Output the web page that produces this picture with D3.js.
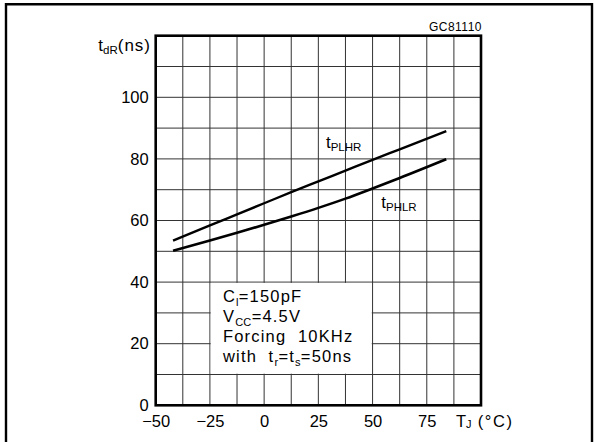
<!DOCTYPE html>
<html>
<head>
<meta charset="utf-8">
<script src="https://cdn.jsdelivr.net/npm/d3@7"></script>
<style>
  body { margin: 0; background: #fff; }
  svg { display: block; font-family: "Liberation Sans", Arial, sans-serif; }
</style>
</head>
<body>
<svg id="chart" width="594" height="442"></svg>
<script>
// data
const tempC = [-42, -25, -12.5, 0, 12.5, 25, 37.5, 50, 62.5, 84];
const tPLHR = [53.5, 58.4, 62.0, 65.6, 69.2, 72.7, 76.2, 79.7, 83.1, 89];
const tPHLR = [50.2, 53.5, 56.0, 58.6, 61.3, 64.1, 67.1, 70.4, 73.8, 79.9];
const xTicks = [-50, -25, 0, 25, 50, 75];
const yTicks = [0, 20, 40, 60, 80, 100];
const conditions = ["C|l|=150pF", "V|CC|=4.5V", "Forcing  10KHz", "with  t|r|=t|s|=50ns"];

const svg = d3.select("#chart");
const plotL = 155.7, plotR = 481, plotT = 35.7, plotB = 405.3;

const x = d3.scaleLinear().domain([-50, 100]).range([plotL, plotR]);
const y = d3.scaleLinear().domain([0, 120]).range([plotB, plotT]);

// outer frame
svg.append("path")
    .attr("d", "M6,442 V4.3 H592 V442")
    .attr("fill", "none").attr("stroke", "#000").attr("stroke-width", 2.4);

// grid
const grid = svg.append("g").attr("stroke", "#333").attr("stroke-width", 1);
grid.selectAll(".gx").data(d3.range(-37.5, 100, 12.5)).enter().append("line")
    .attr("x1", d => x(d)).attr("x2", d => x(d)).attr("y1", plotT).attr("y2", plotB);
grid.selectAll(".gy").data(d3.range(10, 120, 10)).enter().append("line")
    .attr("y1", d => y(d)).attr("y2", d => y(d)).attr("x1", plotL).attr("x2", plotR);

// conditions box covers the grid
svg.append("rect")
    .attr("x", x(-25) + 0.8).attr("y", y(40) + 0.8)
    .attr("width", x(50) - x(-25) - 1.6).attr("height", y(10) - y(40) - 1.6)
    .attr("fill", "#fff");

const box = svg.append("text").attr("font-size", 16.5).attr("letter-spacing", 1.2)
    .attr("fill", "#000").style("white-space", "pre");
conditions.forEach((line, i) => {
    const t = box.append("tspan").attr("x", x(-25) + 13).attr("y", y(40) + 20 + i * 20);
    line.split("|").forEach((part, j) => {
        const s = t.append("tspan").text(part);
        if (j % 2 === 1) s.attr("font-size", 11).attr("dy", 4).attr("letter-spacing", 0.3);
        else if (j > 0) s.attr("dy", -4);
    });
});

// curves
const line = d3.line().x((d, i) => x(tempC[i])).y(d => y(d)).curve(d3.curveMonotoneX);
svg.append("path").attr("d", line(tPLHR))
    .attr("fill", "none").attr("stroke", "#000").attr("stroke-width", 2.4);
svg.append("path").attr("d", line(tPHLR))
    .attr("fill", "none").attr("stroke", "#000").attr("stroke-width", 2.6);

// plot border
svg.append("rect").attr("x", plotL).attr("y", plotT)
    .attr("width", plotR - plotL).attr("height", plotB - plotT)
    .attr("fill", "none").attr("stroke", "#000").attr("stroke-width", 2.6);

// axes labels
const xAxis = svg.append("g").attr("transform", `translate(0,${plotB})`)
    .call(d3.axisBottom(x).tickValues(xTicks).tickSize(0).tickPadding(8));
const yAxis = svg.append("g").attr("transform", `translate(${plotL},0)`)
    .call(d3.axisLeft(y).tickValues(yTicks).tickSize(0).tickPadding(7));
[xAxis, yAxis].forEach(a => {
    a.select(".domain").remove();
    a.selectAll("text").attr("font-size", 16.5).attr("font-family", "Liberation Sans, Arial, sans-serif").attr("fill", "#000");
});
xAxis.selectAll("text").attr("dy", "0.85em");

// curve labels
function subLabel(px, py, main, sub) {
    const t = svg.append("text").attr("x", px).attr("y", py).attr("font-size", 17).attr("fill", "#000");
    t.append("tspan").text(main);
    t.append("tspan").text(sub).attr("font-size", 11.5).attr("dy", 3);
    return t;
}
subLabel(x(28.5), y(83.6), "t", "PLHR");
subLabel(x(54), y(64), "t", "PHLR");

// y title
const yt = svg.append("text").attr("x", 151).attr("y", 51).attr("text-anchor", "end")
    .attr("font-size", 17).attr("fill", "#000");
yt.append("tspan").text("t");
yt.append("tspan").text("dR").attr("font-size", 11.5).attr("dy", 3);
yt.append("tspan").text("(ns)").attr("dy", -3).attr("letter-spacing", 1);

// x title
const xt = svg.append("text").attr("x", 456).attr("y", 427).attr("font-size", 16.5).attr("fill", "#000");
xt.append("tspan").text("T");
xt.append("tspan").text("J").attr("font-size", 11).attr("dy", 1);
xt.append("tspan").text(" (°C)").attr("dy", -1).attr("letter-spacing", 1.6);

// figure code
svg.append("text").attr("x", 482).attr("y", 31).attr("text-anchor", "end")
    .attr("font-size", 12).attr("letter-spacing", 0.5).attr("fill", "#000").text("GC81110");
</script>
</body>
</html>
